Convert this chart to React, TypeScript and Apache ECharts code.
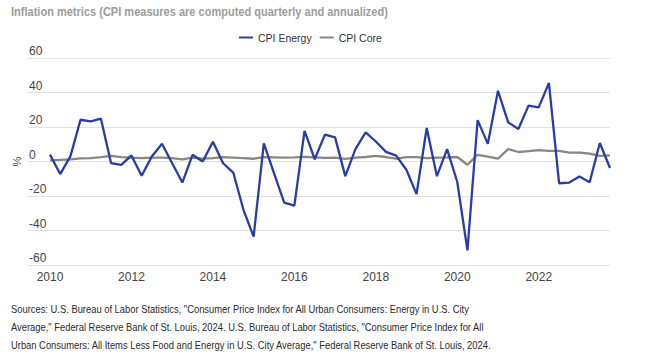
import React, { useEffect, useRef } from "react";
import * as echarts from "echarts";

const startYear = 2010;
const xTickYears = [2010, 2012, 2014, 2016, 2018, 2020, 2022];
const seriesNames = ["CPI Energy", "CPI Core"];

const cpiEnergy = [
  4, -7.3, 3, 24.2, 23.3, 24.8, -1, -2,
  3.5, -8.3, 2.9, 10.3, -1, -12.2, 3.9, 0,
  11.5, -1, -6.4, -28, -43.6, 10.5, -6.7, -23.8,
  -25.6, 17.8, 1.3, 15.6, 14, -8.5, 7.2, 16.9,
  11.6, 5.6, 3.4, -4.8, -18.9, 19.4, -8.5, 7.2,
  -11.9, -51.5, 24, 10.2, 41, 22.7, 18.8, 32.4,
  31.4, 45.6, -12.6, -12.2, -8.7, -12, 10.7, -3.8,
];

const cpiCore = [
  0.6, 0.9, 1.2, 1.8, 2.0, 2.5, 3.3, 2.5,
  2.2, 2.0, 2.2, 2.2, 1.9, 1.2, 2.3, 1.7,
  1.9, 2.5, 2.3, 2.0, 1.6, 2.5, 2.4, 2.3,
  2.4, 2.7, 2.4, 2.1, 2.3, 1.5, 2.2, 2.6,
  3.3, 2.6, 1.6, 2.5, 2.5, 2.0, 2.3, 2.4,
  2.6, -1.9, 3.9, 2.8, 1.7, 7.2, 5.5, 6.0,
  6.6, 6.2, 6.2, 5.2, 5.1, 4.6, 3.3, 3.5,
];

const titleText =
  "Inflation metrics (CPI measures are computed quarterly and annualized)";
const footerLines = [
  'Sources: U.S. Bureau of Labor Statistics, "Consumer Price Index for All Urban Consumers: Energy in U.S. City',
  'Average," Federal Reserve Bank of St. Louis, 2024. U.S. Bureau of Labor Statistics, "Consumer Price Index for All',
  'Urban Consumers: All Items Less Food and Energy in U.S. City Average," Federal Reserve Bank of St. Louis, 2024.',
];

const toPairs = (vals: number[]) =>
  vals.map((v, i) => [startYear + i / 4, v]);

const FONT = "'Liberation Sans', Arial, sans-serif";
const BLUE = "#2b3ca6";
const GREY = "#8b8680";

export default function App() {
  const ref = useRef<HTMLDivElement>(null);
  useEffect(() => {
    document.body.style.margin = "0";
    if (!ref.current) return;
    const chart = echarts.init(ref.current, undefined, { renderer: "svg" });
    chart.setOption({
      animation: false,
      backgroundColor: "#ffffff",
      textStyle: { fontFamily: FONT },
      grid: { left: 28, right: 37, top: 58, bottom: 98 },
      legend: {
        left: 239,
        top: 32,
        padding: 0,
        icon: "rect",
        itemWidth: 14,
        itemHeight: 2,
        itemGap: 8,
        textStyle: { fontFamily: FONT, fontSize: 10.5, color: "#333" },
        data: seriesNames,
      },
      xAxis: {
        type: "value",
        min: 2009.46,
        max: 2023.75,
        axisLine: { show: false },
        axisTick: { show: false },
        splitLine: { show: false },
        axisLabel: {
          customValues: xTickYears,
          formatter: (v: number) => String(Math.round(v)),
          margin: 6,
          fontSize: 12,
          color: "#444",
          fontFamily: FONT,
        },
      },
      yAxis: {
        type: "value",
        min: -60,
        max: 60,
        interval: 20,
        name: "%",
        nameLocation: "middle",
        nameRotate: 90,
        nameGap: 6,
        nameMoveOverlap: false,
        nameTextStyle: { fontSize: 11, color: "#444", fontFamily: FONT },
        axisLine: { show: false },
        axisTick: { show: false },
        splitLine: { lineStyle: { color: "#e2e2e2", width: 1 } },
        axisLabel: {
          inside: true,
          margin: 1,
          align: "left",
          verticalAlign: "bottom",
          padding: [0, 0, 1, 0],
          fontSize: 12,
          color: "#444",
          fontFamily: FONT,
        },
      },
      series: [
        {
          name: seriesNames[0],
          type: "line",
          data: toPairs(cpiEnergy),
          showSymbol: false,
          lineStyle: { color: BLUE, width: 2.3 },
          itemStyle: { color: BLUE },
          z: 3,
        },
        {
          name: seriesNames[1],
          type: "line",
          data: toPairs(cpiCore),
          showSymbol: false,
          lineStyle: { color: GREY, width: 2.3 },
          itemStyle: { color: GREY },
          z: 2,
        },
      ],
      graphic: [
        {
          type: "text",
          x: 11,
          y: 6,
          scaleX: 0.92,
          style: {
            text: titleText,
            fontFamily: FONT,
            fontSize: 12,
            fontWeight: "bold",
            fill: "#9d9d9d",
            verticalAlign: "top",
          },
        },
        {
          type: "text",
          x: 11,
          y: 300,
          scaleX: 0.815,
          style: {
            text: footerLines.join("\n"),
            fontFamily: FONT,
            fontSize: 11.5,
            lineHeight: 18,
            fill: "#2a2a2a",
            verticalAlign: "top",
          },
        },
      ],
    });
    return () => chart.dispose();
  }, []);
  return <div ref={ref} style={{ width: 647, height: 363 }} />;
}
